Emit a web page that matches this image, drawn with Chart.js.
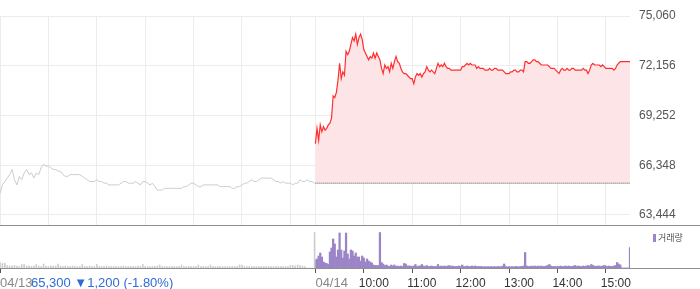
<!DOCTYPE html>
<html>
<head>
<meta charset="utf-8">
<script src="https://cdn.jsdelivr.net/npm/chart.js@4/dist/chart.umd.min.js"></script>
<style>
html, body { margin: 0; padding: 0; background: #fff; }
#wrap { position: relative; width: 700px; height: 289px; overflow: hidden; font-family: Arial, "Liberation Sans", sans-serif; }
#priceBox { position: absolute; left: 0; top: 0; width: 700px; height: 225px; }
#volBox { position: absolute; left: 0; top: 226px; width: 700px; height: 63px; }
.hline { position: absolute; left: 0; width: 700px; height: 1px; background: #909090; }
#info { position: absolute; left: 31px; top: 275px; font-size: 13px; line-height: 16px; color: #2f6bd6; white-space: nowrap; }
#legend { position: absolute; left: 653px; top: 232px; font-size: 9px; line-height: 11px; color: #555; white-space: nowrap; font-family: "Noto Sans CJK KR", sans-serif; }
#legend i { display: inline-block; width: 3px; height: 8px; background: #9b85c7; margin-right: 2px; vertical-align: -1px; }
</style>
</head>
<body>
<div id="wrap">
  <div id="priceBox"><canvas id="price" width="700" height="225"></canvas></div>
  <div class="hline" style="top:225px"></div>
  <div id="volBox"><canvas id="volume" width="700" height="63"></canvas></div>
  <div class="hline" style="top:268px"></div>
  <div id="info"></div>
  <div id="legend"></div>
</div>
<script>
// day labels and previous close
const dayLabels = ['04/13', '04/14'];
const prevClose = 65300;
const changeText = '▼1,200 (-1.80%)';
const volumeLabel = '거래량';

// minutes between samples, minutes from 09:00
const day1Step = 3;
const day2Step = 2;
const day2Start = 391;      // 04/14 09:00 on the shared time axis
const sessionMinutes = 390; // 09:00 - 15:30
const hourMarks = [60, 120, 180, 240, 300, 360];
const hourLabels = ['10:00', '11:00', '12:00', '13:00', '14:00', '15:00'];

// price axis
const priceTicks = [63444, 66348, 69252, 72156, 75060];
const priceMin = 62860;
const priceMax = 75060;

// 04/13, every 3 minutes
const day1Price = [
  64700, 65200, 65400, 65600, 65800, 66100, 65500, 65200, 65700, 65500,
  65900, 66100, 65800, 65900, 65600, 65900, 65800, 66200, 66400, 66300,
  66300, 66200, 66100, 66100, 66000, 66000, 65800, 65700, 65700, 65800,
  65800, 65800, 65800, 65800, 65700, 65600, 65500, 65400, 65400, 65400,
  65500, 65400, 65400, 65300, 65300, 65200, 65200, 65200, 65200, 65200,
  65300, 65400, 65400, 65300, 65300, 65300, 65400, 65300, 65200, 65400,
  65400, 65300, 65200, 65300, 65100, 64900, 64900, 64900, 65000, 65000,
  65000, 65000, 65000, 65000, 65000, 65000, 65100, 65100, 65200, 65300,
  65300, 65200, 65100, 65100, 65200, 65200, 65200, 65200, 65200, 65200,
  65200, 65100, 65100, 65100, 65100, 65100, 65000, 65000, 65100, 65100,
  65200, 65300, 65300, 65400, 65500, 65400, 65400, 65500, 65600, 65600,
  65600, 65600, 65600, 65500, 65400, 65400, 65300, 65400, 65300, 65300,
  65300, 65200, 65300, 65300, 65500, 65400, 65400, 65500, 65400, 65400,
  65300
];

// 04/14, every 2 minutes
const day2Price = [
  67600, 68500, 67800, 68700, 68300, 68600, 68400, 68500, 68700, 68800,
  69100, 70400, 70300, 70600, 71300, 72300, 71400, 71800, 71600, 73000,
  72800, 73000, 73400, 73800, 73600, 74000, 73400, 73800, 74000, 73700,
  73100, 72900, 72700, 72500, 72700, 72600, 72900, 72600, 72900, 72700,
  72500, 72000, 71700, 72200, 72000, 72100, 71800, 72300, 72000, 72400,
  72700, 72400, 72300, 72000, 71800, 71700, 71700, 71600, 71500, 71400,
  71400, 71100, 71500, 71700, 71600, 71700, 71500, 71700, 71800, 72100,
  71900, 71800, 71900, 71800, 71700, 72000, 72300, 72100, 72200, 72100,
  72300, 72100, 72000, 72000, 71900, 71900, 71900, 71900, 71900, 71900,
  71900, 72100, 72100, 72200, 72300, 72200, 72300, 72200, 72200, 72200,
  72000, 72100, 72000, 72000, 72000, 71900, 71900, 71900, 72000, 71900,
  71900, 72000, 72000, 71900, 71900, 71900, 71900, 71800, 71700, 71700,
  71700, 71800, 71800, 71900, 71900, 71800, 71800, 71900, 71900, 71800,
  72400, 72400, 72300, 72300, 72400, 72500, 72500, 72400, 72400, 72300,
  72200, 72200, 72200, 72200, 72200, 72100, 72000, 72000, 72000, 71900,
  71800, 71700, 71900, 72000, 71900, 71900, 72000, 71900, 71900, 72000,
  72000, 71900, 71900, 71900, 71900, 71900, 72000, 71900, 71900, 71700,
  71900, 72200, 72300, 72200, 72200, 72200, 72200, 72100, 72200, 72100,
  72000, 72000, 72000, 72000, 72000, 71900, 72000, 72200, 72300, 72400,
  72400, 72400, 72400, 72400, 72400, 72400
];

// volume, thousand shares
const day1Volume = [
  55, 45, 50, 25, 20, 20, 25, 20, 15, 35,
  35, 20, 20, 15, 20, 35, 20, 15, 40, 20,
  15, 20, 20, 20, 40, 20, 15, 20, 15, 15,
  20, 15, 15, 15, 35, 15, 15, 20, 15, 15,
  35, 15, 15, 15, 20, 15, 15, 15, 15, 15,
  15, 20, 15, 15, 15, 15, 15, 20, 15, 35,
  15, 15, 15, 15, 15, 20, 30, 15, 15, 15,
  15, 15, 15, 15, 15, 30, 15, 15, 15, 15,
  15, 15, 30, 15, 15, 15, 15, 30, 15, 15,
  15, 15, 15, 15, 15, 15, 15, 15, 15, 30,
  30, 15, 15, 15, 15, 15, 15, 15, 15, 15,
  15, 15, 15, 15, 15, 15, 15, 15, 15, 15,
  25, 25, 20, 30, 25, 20, 15, 0, 0, 0,
  355
];

const day2Volume = [
  80, 90, 120, 150, 110, 60, 50, 45, 35, 160,
  200, 290, 240, 110, 180, 350, 180, 100, 170, 350,
  140, 90, 180, 170, 120, 150, 110, 110, 70, 120,
  100, 60, 90, 70, 60, 50, 30, 25, 25, 25,
  355, 55, 40, 25, 30, 20, 15, 30, 20, 30,
  15, 20, 15, 20, 15, 45, 40, 20, 20, 20,
  15, 20, 35, 15, 20, 20, 35, 20, 15, 25,
  15, 15, 20, 15, 15, 15, 35, 15, 20, 15,
  20, 15, 20, 25, 15, 20, 15, 15, 15, 20,
  15, 30, 15, 15, 20, 15, 15, 20, 15, 20,
  15, 15, 15, 15, 10, 15, 10, 15, 10, 15,
  10, 15, 10, 15, 15, 10, 20, 40, 15, 10,
  15, 10, 15, 10, 15, 15, 10, 15, 15, 20,
  155, 20, 15, 15, 20, 15, 20, 15, 20, 15,
  20, 15, 15, 20, 25, 35, 20, 15, 15, 15,
  15, 15, 20, 15, 15, 20, 15, 20, 15, 15,
  20, 25, 15, 20, 15, 15, 20, 15, 20, 25,
  20, 35, 25, 20, 15, 20, 20, 15, 20, 25,
  20, 15, 20, 15, 15, 20, 25, 55, 40, 30,
  0, 0, 0, 0, 0, 205
];
const volumeMax = 420;

const fontFamily = 'Arial, "Liberation Sans", sans-serif';
Chart.defaults.font.family = fontFamily;

const day1Points = day1Price.map((v, i) => ({ x: i * day1Step, y: v }));
const day2Points = day2Price.map((v, i) => ({ x: day2Start + i * day2Step, y: v }));
const closeLine = [{ x: day2Start, y: prevClose }, { x: day2Start + sessionMinutes, y: prevClose }];
const day1Bars = day1Volume.map((v, i) => ({ x: i * day1Step, y: v }));
const day2Bars = day2Volume.map((v, i) => ({ x: day2Start + i * day2Step, y: v }));

const gridTicks = [0, ...hourMarks, day2Start, ...hourMarks.map(h => day2Start + h)];
const timeTicks = hourMarks.map(h => day2Start + h);
const dateTicks = [0, day2Start];
const xMax = day2Start + sessionMinutes;

document.getElementById('info').textContent = prevClose.toLocaleString('en-US') + ' ' + changeText;
document.getElementById('legend').innerHTML = '<i></i>' + volumeLabel;

// both bottom axes are laid out with zero height so they share one row;
// give their labels the room below the plot back after layout
const labelRoom = {
    id: 'labelRoom',
    afterLayout(chart) {
        ['xTime', 'xDate'].forEach(id => { chart.scales[id].bottom = chart.height; });
    }
};

new Chart(document.getElementById('price'), {
    type: 'line',
    data: {
        datasets: [
            { data: closeLine, borderColor: '#555', borderWidth: 1, borderDash: [1, 1], pointRadius: 0, fill: false, order: 0 },
            { data: day2Points, borderColor: '#ff2f2f', borderWidth: 1.2, pointRadius: 0, fill: { value: prevClose }, backgroundColor: '#fde5e7', order: 1 },
            { data: day1Points, borderColor: '#c8ccd2', borderWidth: 1, pointRadius: 0, fill: false, order: 2 }
        ]
    },
    options: {
        responsive: false,
        animation: false,
        events: [],
        layout: { padding: { top: 16, left: 0, right: 0, bottom: 0 } },
        plugins: { legend: { display: false }, tooltip: { enabled: false } },
        scales: {
            x: {
                type: 'linear', min: 0, max: xMax,
                afterBuildTicks: s => { s.ticks = gridTicks.map(v => ({ value: v })); },
                afterFit: s => { s.height = 0; },
                ticks: { display: false },
                grid: { color: '#ececec', drawTicks: false },
                border: { display: false }
            },
            y: {
                position: 'right', min: priceMin, max: priceMax,
                afterBuildTicks: s => { s.ticks = priceTicks.map(v => ({ value: v })); },
                afterFit: s => { s.width = 70; s.paddingTop = 0; s.paddingBottom = 0; },
                ticks: { padding: 9, color: '#555', font: { size: 12 }, callback: v => v.toLocaleString('en-US') },
                grid: { color: '#ececec', drawTicks: false },
                border: { display: false }
            }
        }
    }
});

new Chart(document.getElementById('volume'), {
    type: 'bar',
    data: {
        datasets: [
            { data: day1Bars, backgroundColor: '#cdcdcd', barThickness: 1, grouped: false, xAxisID: 'xTime' },
            { data: day2Bars, backgroundColor: '#9b85c7', barThickness: 1.6, grouped: false, xAxisID: 'xTime' }
        ]
    },
    plugins: [labelRoom],
    options: {
        responsive: false,
        animation: false,
        events: [],
        layout: { padding: { top: 0, left: 0, right: 70, bottom: 21 } },
        plugins: { legend: { display: false }, tooltip: { enabled: false } },
        scales: {
            xTime: {
                type: 'linear', position: 'bottom', min: 0, max: xMax, offset: false,
                afterBuildTicks: s => { s.ticks = timeTicks.map(v => ({ value: v })); },
                afterFit: s => { s.height = 0; s.paddingLeft = 0; s.paddingRight = 0; },
                ticks: { autoSkip: false, maxRotation: 0, align: 'start', labelOffset: -5, padding: 3, color: '#333', font: { size: 12 },
                    callback: (v, i) => hourLabels[i] },
                grid: { offset: false, drawOnChartArea: false, drawTicks: true, tickLength: 5, tickColor: '#555' },
                border: { display: false }
            },
            xDate: {
                type: 'linear', position: 'bottom', min: 0, max: xMax, offset: false,
                afterBuildTicks: s => { s.ticks = dateTicks.map(v => ({ value: v })); },
                afterFit: s => { s.height = 0; s.paddingLeft = 0; s.paddingRight = 0; },
                ticks: { autoSkip: false, maxRotation: 0, align: 'start', padding: 3, color: '#888', font: { size: 13 },
                    callback: (v, i) => dayLabels[i] },
                grid: { offset: false, drawOnChartArea: false, drawTicks: true, tickLength: 5, tickColor: '#555' },
                border: { display: false }
            },
            y: { display: false, min: 0, max: volumeMax }
        }
    }
});
</script>
</body>
</html>
